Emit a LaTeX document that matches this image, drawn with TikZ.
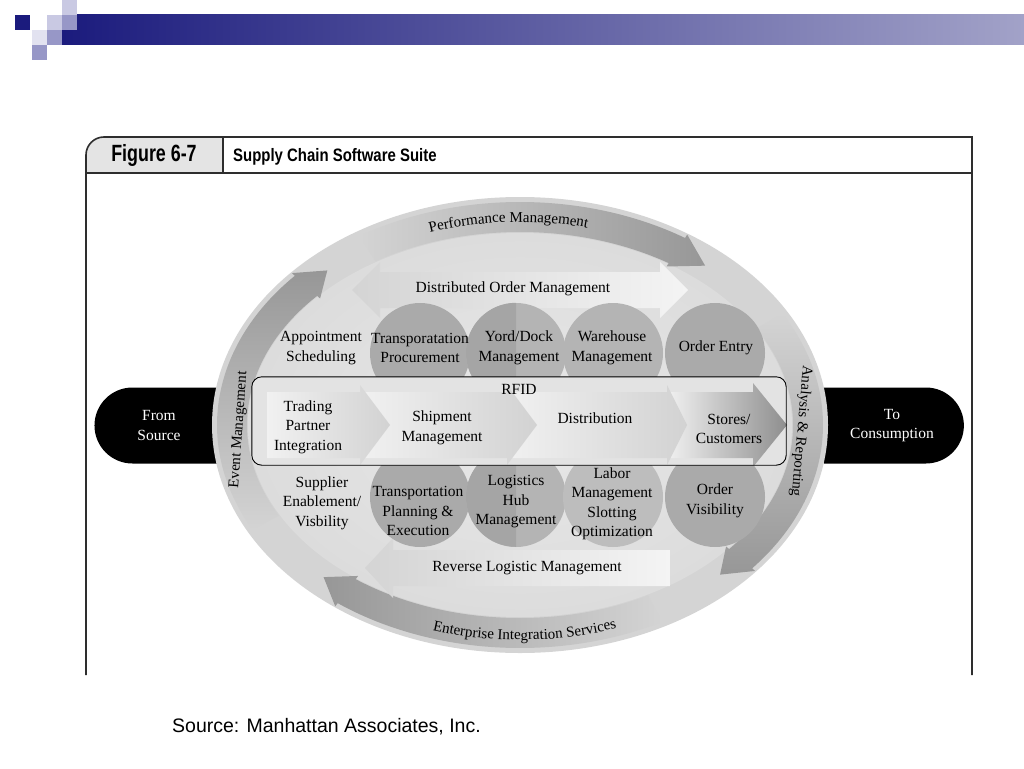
\documentclass[tikz,border=0pt]{standalone}
\usepackage{fontspec}
\setmainfont{Liberation Serif}
\newfontfamily\slidefont{Liberation Sans}
\usepackage{tikz}
\usetikzlibrary{
    shapes.misc,
    positioning,
    calc,
    decorations.text
}
\definecolor{scnavy}{HTML}{1B1B7D}
\definecolor{scbarend}{HTML}{A2A2C8}
\definecolor{sclavender}{HTML}{9797C7}
\definecolor{scpale}{HTML}{C9C9E3}
\definecolor{scfaint}{HTML}{E2E2F0}
\definecolor{scframe}{HTML}{2E2E2E}
\definecolor{schead}{HTML}{E4E4E4}
\definecolor{scring}{HTML}{D4D4D4}
\definecolor{scinner}{HTML}{DCDCDC}
\definecolor{scinnerlight}{HTML}{E8E8E8}
\definecolor{scband}{HTML}{979797}
\definecolor{scdisc}{HTML}{AAAAAA}
\definecolor{scdiscdark}{HTML}{A5A5A5}
\definecolor{scdisclight}{HTML}{B4B4B4}
\definecolor{scdiscpale}{HTML}{BDBDBD}
\definecolor{scflowlight}{HTML}{F1F1F1}
\definecolor{scflowmid}{HTML}{D2D2D2}
\definecolor{scflowdeep}{HTML}{8E8E8E}
\definecolor{scrfid}{HTML}{E3E3E3}
\definecolor{scpath}{HTML}{F4F4F4}
\definecolor{scpathdim}{HTML}{D4D4D4}
\newcommand{\diagfont}{\fontsize{15.5}{19.5}\selectfont}
\newcommand{\ringfont}{\fontsize{15}{17}\selectfont}
\tikzset{
    % Frame lines of the figure
    frameline/.style={
        draw=scframe,
        line width=1.6pt
    },
    % Plain label in the diagram
    stagelabel/.style={
        align=center,
        font=\diagfont,
        inner sep=0pt
    },
    % Straight label on the side of the ring
    sidelabel/.style={
        font=\ringfont,
        inner sep=0pt
    },
    % Grey activity disc
    activitydisc/.style={
        circle,
        fill=#1,
        minimum size=100pt,
        inner sep=0pt
    },
    activitydisc/.default=scdisc,
    % Black end cap (source / consumption)
    endcap/.style={
        rounded rectangle,
        fill=black,
        text=white,
        font=\diagfont,
        align=center,
        minimum height=76pt,
        inner sep=0pt
    },
    % RFID frame
    rfidframe/.style={
        rectangle,
        rounded corners=10pt,
        fill=scrfid,
        minimum width=534pt,
        minimum height=88pt,
        inner sep=0pt
    },
    % Curved text on the outer ring
    ringlabel/.style={
        decorate,
        decoration={
            text along path,
            text align=center,
            text={|\ringfont|#1}
        }
    }
}

\begin{document}
\begin{tikzpicture}[x=1pt, y=1pt]
    \useasboundingbox (0,0) rectangle (1024,-768);

    % Slide decoration (top left)
    \shade[left color=scnavy, right color=scbarend] (62,-15) rectangle (1024,-45);
    \fill[scpale] (62,0) rectangle (77,-15);
    \fill[scnavy] (15,-15) rectangle (30,-30);
    \fill[scpale] (47,-15) rectangle (62,-30);
    \fill[sclavender] (62,-15) rectangle (77,-30);
    \fill[scfaint] (32,-30) rectangle (47,-45);
    \fill[sclavender] (47,-30) rectangle (62,-45);
    \fill[sclavender] (32,-45) rectangle (47,-60);

    % Figure frame
    \fill[schead] (86,-173) -- (86,-155) arc[start angle=180, end angle=90, radius=18] -- (223,-137) -- (223,-173) -- cycle;
    \draw[frameline] (86,-675) -- (86,-155) arc[start angle=180, end angle=90, radius=18] -- (972,-137) -- (972,-675);
    \draw[frameline] (86,-173) -- (972,-173);
    \draw[frameline] (223,-137) -- (223,-173);
    \node[font=\slidefont\bfseries\fontsize{23.5}{26}\selectfont, inner sep=0pt] (fig-number) at (154,-155) {\scalebox{0.76}[1]{Figure 6-7}};
    \node[font=\slidefont\bfseries\fontsize{18}{20}\selectfont, inner sep=0pt, anchor=west] (fig-title) at (233,-157) {\scalebox{0.83}[1]{Supply Chain Software Suite}};

    % End caps behind the ellipse
    \node[endcap, rounded rectangle right arc=none, minimum width=126pt] (source) at (159,-425.5) {From\\Source};
    \node[endcap, rounded rectangle left arc=none, minimum width=140pt] (consumption) at (892,-425.5) {To\\Consumption};

    % Suite ellipse
    \coordinate (hub) at (520,-425);
    \fill[scring] (hub) ellipse[x radius=308, y radius=228];
    \shade[inner color=scinnerlight, outer color=scinner] (hub) ellipse[x radius=272, y radius=192];

    % Ring arrows (clockwise) and their labels
    \begin{scope}[shift={(hub)}]
        \shade[left color=scring, right color=scband]
            (122:303 and 223) arc[start angle=122, end angle=57, x radius=303, y radius=223]
            -- (57:307 and 227) -- (50:288 and 208) -- (57:269 and 189) -- (57:273 and 193)
            arc[start angle=57, end angle=122, x radius=273, y radius=193] -- cycle;
        \shade[top color=scband, bottom color=scring]
            (208:303 and 223) arc[start angle=208, end angle=138, x radius=303, y radius=223]
            -- (138:307 and 227) -- (132:288 and 208) -- (138:269 and 189) -- (138:273 and 193)
            arc[start angle=138, end angle=208, x radius=273, y radius=193] -- cycle;
        \shade[top color=scring, bottom color=scband]
            (30:303 and 223) arc[start angle=30, end angle=-40, x radius=303, y radius=223]
            -- (-40:307 and 227) -- (-46:288 and 208) -- (-40:269 and 189) -- (-40:273 and 193)
            arc[start angle=-40, end angle=30, x radius=273, y radius=193] -- cycle;
        \shade[left color=scband, right color=scring]
            (-62:303 and 223) arc[start angle=-62, end angle=-127, x radius=303, y radius=223]
            -- (-127:307 and 227) -- (-133:288 and 208) -- (-127:269 and 189) -- (-127:273 and 193)
            arc[start angle=-127, end angle=-62, x radius=273, y radius=193] -- cycle;

        \path[ringlabel={Performance Management}]
            (122:283 and 203) arc[start angle=122, end angle=63, x radius=283, y radius=203];
        \path[ringlabel={Enterprise Integration Services}]
            (-119:295 and 215) arc[start angle=-119, end angle=-59, x radius=295, y radius=215];
    \end{scope}
    \node[sidelabel, rotate=86] (event-label) at (239,-430) {Event Management};
    \node[sidelabel, rotate=-95] (analysis-label) at (801,-431) {Analysis \& Reporting};

    % Distributed order management (double arrow)
    \shade[left color=scpathdim, right color=scpath]
        (352,-290) -- (380,-262) -- (380,-272) -- (660,-272) -- (660,-262) -- (688,-290)
        -- (660,-318) -- (660,-308) -- (380,-308) -- (380,-318) -- cycle;

    % Reverse logistic management (arrow to the left)
    \shade[left color=scpathdim, right color=scpath]
        (365,-568) -- (393,-538) -- (393,-550) -- (670,-550) -- (670,-586) -- (393,-586) -- (393,-598) -- cycle;

    % Upper row of discs
    \node[activitydisc] (disc-tproc) at (420,-353) {};
    \node[activitydisc=scdisclight] (disc-yard) at (516,-353) {};
    \fill[scdiscdark] (disc-yard.north) arc[start angle=90, end angle=270, radius=50] -- cycle;
    \node[activitydisc=scdisclight] (disc-whse) at (613,-353) {};
    \node[activitydisc] (disc-entry) at (715,-353) {};

    % Lower row of discs
    \node[activitydisc] (disc-tplan) at (420,-497) {};
    \node[activitydisc=scdisclight] (disc-hub) at (516,-497) {};
    \fill[scdiscdark] (disc-hub.north) arc[start angle=90, end angle=270, radius=50] -- cycle;
    \node[activitydisc=scdiscpale] (disc-labor) at (613,-497) {};
    \node[activitydisc] (disc-visib) at (715,-497) {};

    % RFID frame with the flow chevrons (back to front)
    \node[rfidframe] (rfid-frame) at (519,-421) {};
    \shade[left color=scflowlight, right color=scflowdeep]
        (667,-392) -- (753,-392) -- (753,-383) -- (787,-425) -- (753,-467) -- (753,-458) -- (667,-458) -- cycle;
    \shade[left color=scflowlight, right color=scflowmid]
        (507,-392) -- (667,-392) -- (667,-385) -- (687,-425) -- (667,-465) -- (667,-458) -- (507,-458) -- cycle;
    \shade[left color=scflowlight, right color=scflowmid]
        (360,-392) -- (507,-392) -- (507,-385) -- (537,-425) -- (507,-465) -- (507,-458) -- (360,-458) -- cycle;
    \shade[left color=scflowlight, right color=scflowmid]
        (267,-392) -- (360,-392) -- (360,-385) -- (390,-425) -- (360,-465) -- (360,-458) -- (267,-458) -- cycle;
    \draw[line width=0.9pt, rounded corners=10pt] (rfid-frame.south west) rectangle (rfid-frame.north east);

    % Labels, upper row
    \node[stagelabel] (dom) at (513,-289) {Distributed Order Management};
    \node[stagelabel] (appt) at (321,-348) {Appointment\\Scheduling};
    \node[stagelabel] (tproc) at (420,-348) {Transporatation\\Procurement};
    \node[stagelabel] (yard) at (519,-348) {Yord/Dock\\Management};
    \node[stagelabel] (whse) at (612,-348) {Warehouse\\Management};
    \node[stagelabel] (entry) at (716,-348) {Order Entry};

    % Labels, RFID flow
    \node[stagelabel] (rfid) at (519,-389) {RFID};
    \node[stagelabel] (trade) at (308,-427) {Trading\\Partner\\Integration};
    \node[stagelabel] (ship) at (442,-428) {Shipment\\Management};
    \node[stagelabel] (dist) at (595,-418) {Distribution};
    \node[stagelabel] (stores) at (729,-429) {Stores/\\Customers};

    % Labels, lower row
    \node[stagelabel] (supp) at (322,-503) {Supplier\\Enablement/\\Visbility};
    \node[stagelabel] (tplan) at (418,-511) {Transportation\\Planning \&\\Execution};
    \node[stagelabel] (hub-label) at (516,-502) {Logistics\\Hub\\Management};
    \node[stagelabel] (labor) at (612,-504) {Labor\\Management\\Slotting\\Optimization};
    \node[stagelabel] (visib) at (715,-501) {Order\\Visibility};
    \node[stagelabel] (rlm) at (527,-568) {Reverse Logistic Management};

    % Source line
    \node[font=\slidefont\fontsize{19.5}{22}\selectfont, anchor=west, inner sep=0pt] (credit) at (172,-727) {Source: Manhattan Associates, Inc.};

\end{tikzpicture}
\end{document}
